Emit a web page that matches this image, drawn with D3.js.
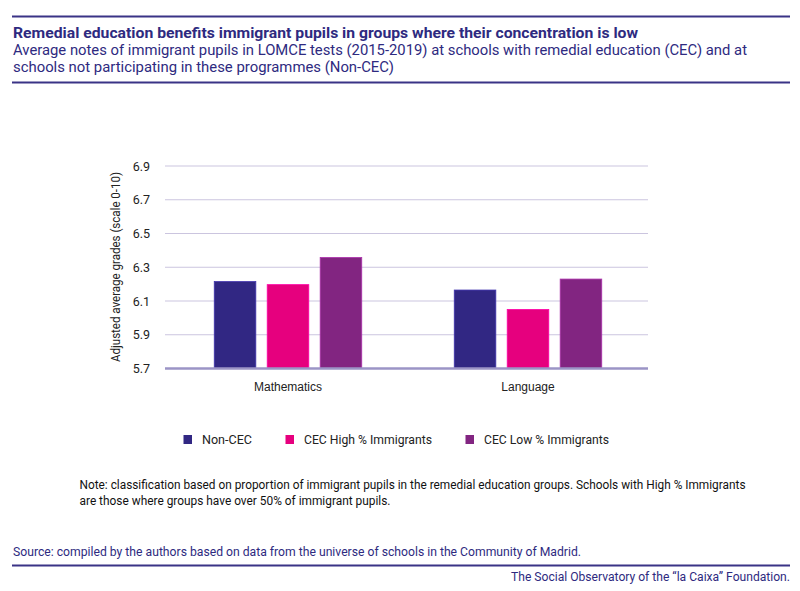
<!DOCTYPE html>
<html><head><meta charset="utf-8">
<script src="https://cdn.jsdelivr.net/npm/d3@7/dist/d3.min.js"></script>
<style>
body{margin:0;background:#fff;}
svg{display:block;font-family:"Roboto","Liberation Sans",Arial,sans-serif;}
</style></head>
<body>
<script>
const categories = ["Mathematics", "Language"];
const seriesNames = ["Non-CEC", "CEC High % Immigrants", "CEC Low % Immigrants"];
const nonCEC = [6.215, 6.165];
const cecHigh = [6.197, 6.05];
const cecLow = [6.358, 6.23];
const yTicks = [5.7, 5.9, 6.1, 6.3, 6.5, 6.7, 6.9];
const colors = ["#312783", "#e6007e", "#822581"];
const seriesValues = [nonCEC, cecHigh, cecLow];

const W = 800, H = 591;
const svg = d3.select("body").append("svg").attr("width", W).attr("height", H);
const navy = "#2e2a80";

function fitText(sel, len) { sel.attr("textLength", len).attr("lengthAdjust", "spacingAndGlyphs"); }

// top rules
svg.append("line").attr("x1", 12).attr("x2", 790).attr("y1", 16.5).attr("y2", 16.5).attr("stroke", "#3a3386").attr("stroke-width", 2);
svg.append("line").attr("x1", 12).attr("x2", 790).attr("y1", 82.5).attr("y2", 82.5).attr("stroke", "#3a3386").attr("stroke-width", 2);

svg.append("text").attr("x", 13).attr("y", 38.3).attr("fill", navy).attr("font-weight", "bold").attr("font-size", 14)
  .text("Remedial education benefits immigrant pupils in groups where their concentration is low").call(fitText, 625);
svg.append("text").attr("x", 13).attr("y", 55.3).attr("fill", navy).attr("font-size", 14)
  .text("Average notes of immigrant pupils in LOMCE tests (2015-2019) at schools with remedial education (CEC) and at").call(fitText, 734);
svg.append("text").attr("x", 13).attr("y", 71.8).attr("fill", navy).attr("font-size", 14)
  .text("schools not participating in these programmes (Non-CEC)").call(fitText, 381);

// chart
const plot = {left: 165, right: 648, top: 166, bottom: 368.5};
const y = d3.scaleLinear().domain([5.7, 6.9]).range([plot.bottom, plot.top]);
const x0 = d3.scaleBand().domain(categories).range([plot.left + 3, plot.right]).padding(0);
const x1 = d3.scaleBand().domain(seriesNames).range([0, 147.5]).paddingInner(0.215).paddingOuter(0);

const g = svg.append("g");
g.selectAll("line.grid").data(yTicks.slice(1)).join("line").attr("class", "grid")
  .attr("x1", plot.left).attr("x2", plot.right).attr("y1", d => y(d)).attr("y2", d => y(d))
  .attr("stroke", "#cbc5df").attr("stroke-width", 1);

const yAxis = d3.axisLeft(y).tickValues(yTicks).tickFormat(d3.format(".1f")).tickSize(0).tickPadding(0);
const ya = svg.append("g").attr("transform", `translate(150,0)`).call(yAxis);
ya.select(".domain").remove();
ya.selectAll("text").attr("font-size", 12.5).attr("fill", "#222").attr("font-family", "Roboto, sans-serif");

svg.append("text").attr("transform", `translate(120,267) rotate(-90)`).attr("text-anchor", "middle")
  .attr("font-size", 12).attr("fill", "#222").text("Adjusted average grades (scale 0-10)").call(fitText, 190);

const groups = g.selectAll("g.cat").data(categories).join("g").attr("class", "cat")
  .attr("transform", d => `translate(${x0(d) + (x0.bandwidth() - 147.5) / 2},0)`);
groups.selectAll("rect").data((d, i) => seriesNames.map((s, j) => ({s, v: seriesValues[j][i], j})))
  .join("rect")
  .attr("x", d => x1(d.s)).attr("width", x1.bandwidth())
  .attr("y", d => y(d.v)).attr("height", d => y(5.7) - y(d.v))
  .attr("fill", d => colors[d.j])
  .attr("stroke", d => d3.color(colors[d.j]).brighter(0.8)).attr("stroke-width", 0.8);

// baseline
svg.append("line").attr("x1", plot.left).attr("x2", plot.right).attr("y1", y(5.7)).attr("y2", y(5.7))
  .attr("stroke", "#9b94c6").attr("stroke-width", 2.5);

const xAxis = d3.axisBottom(x0).tickSize(0).tickPadding(0);
const xa = svg.append("g").attr("transform", `translate(0,${plot.bottom + 12})`).call(xAxis);
xa.select(".domain").remove();
xa.selectAll("text").attr("font-size", 12).attr("fill", "#222").attr("dy", "0.9em");

// legend
const legendX = [183.5, 285.5, 465.5];
const legendW = [50, 128, 125];
const lg = svg.append("g");
seriesNames.forEach((s, i) => {
  lg.append("rect").attr("x", legendX[i]).attr("y", 435).attr("width", 8.5).attr("height", 9).attr("fill", colors[i]);
  lg.append("text").attr("x", legendX[i] + 18.5).attr("y", 443.5).attr("font-size", 12).attr("fill", "#222").text(s).call(fitText, legendW[i]);
});

// note
svg.append("text").attr("x", 79.5).attr("y", 489).attr("font-size", 12).attr("fill", "#111")
  .text("Note: classification based on proportion of immigrant pupils in the remedial education groups. Schools with High % Immigrants").call(fitText, 666);
svg.append("text").attr("x", 79.5).attr("y", 505).attr("font-size", 12).attr("fill", "#111")
  .text("are those where groups have over 50% of immigrant pupils.").call(fitText, 311);

// source & footer
svg.append("text").attr("x", 13).attr("y", 556).attr("font-size", 12).attr("fill", navy)
  .text("Source: compiled by the authors based on data from the universe of schools in the Community of Madrid.").call(fitText, 568);
svg.append("line").attr("x1", 12).attr("x2", 790).attr("y1", 565.5).attr("y2", 565.5).attr("stroke", "#3a3386").attr("stroke-width", 2);
svg.append("text").attr("x", 790).attr("y", 581).attr("text-anchor", "end").attr("font-size", 12).attr("fill", navy)
  .text("The Social Observatory of the \u201cla Caixa\u201d Foundation.").call(fitText, 279);
</script>
</body></html>
